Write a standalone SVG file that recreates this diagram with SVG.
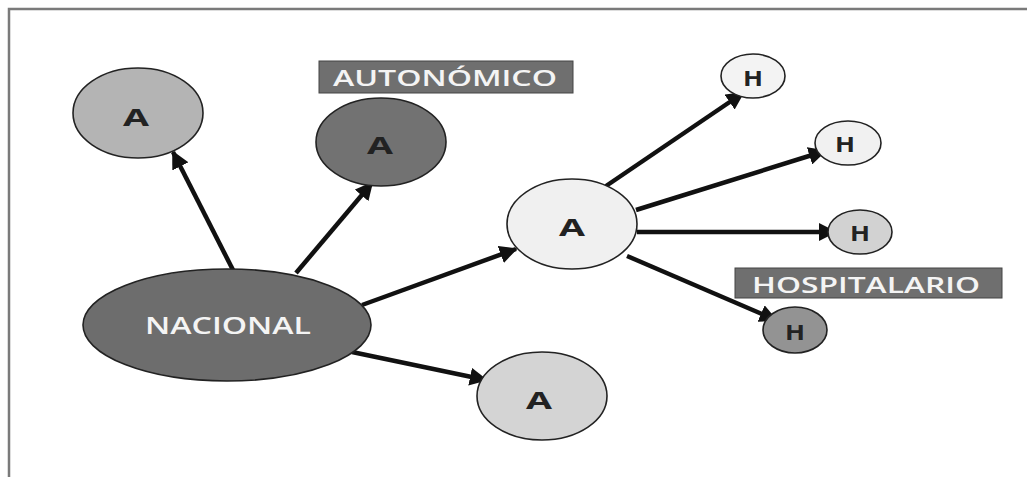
<svg xmlns="http://www.w3.org/2000/svg" width="1027" height="477" viewBox="0 0 1027 477">
<defs>
<marker id="arr" viewBox="0 0 10 10" refX="9" refY="5" markerWidth="4" markerHeight="4" orient="auto" markerUnits="strokeWidth">
<path d="M0,0 L10,5 L0,10 Z" fill="#111"/>
</marker>
<style>
.node{stroke:#222;stroke-width:1.6}
.lbl{font-family:"Open Sans",Lato,sans-serif;font-weight:bold;fill:#222;text-anchor:middle;dominant-baseline:central}
.tag{fill:#6f6f6f;stroke:#444;stroke-width:1}
.tagt{font-family:"Open Sans",Lato,sans-serif;font-weight:600;fill:#f4f4f4;text-anchor:middle;dominant-baseline:central}
.edge{stroke:#111;stroke-width:4.5;fill:none;marker-end:url(#arr)}
</style>
</defs>
<rect width="1027" height="477" fill="#fff"/>
<path d="M1027,9 L9,9 L9,477" fill="none" stroke="#7a7a7a" stroke-width="2.5"/>
<g id="connectors">
<line class="edge" x1="233" y1="270" x2="173" y2="152"/>
<line class="edge" x1="296" y1="273" x2="372" y2="183"/>
<line class="edge" x1="362" y1="305" x2="516" y2="249"/>
<line class="edge" x1="352" y1="352" x2="486" y2="380"/>
<line class="edge" x1="606" y1="186" x2="743" y2="93"/>
<line class="edge" x1="636" y1="210" x2="825" y2="151"/>
<line class="edge" x1="637" y1="232" x2="835" y2="232"/>
<line class="edge" x1="627" y1="256" x2="776" y2="320"/>
</g>
<g id="nacional">
<ellipse class="node" cx="227" cy="325" rx="144" ry="56" fill="#6d6d6d"/>
<text class="tagt" x="228" y="325" style="font-size:23px" textLength="166" lengthAdjust="spacingAndGlyphs">NACIONAL</text>
</g>
<g id="a-topleft">
<ellipse class="node" cx="138" cy="113" rx="65" ry="45" fill="#b4b4b4"/>
<text class="lbl" x="136" y="116" style="font-size:24px" textLength="26" lengthAdjust="spacingAndGlyphs">A</text>
</g>
<g id="autonomico-label">
<rect class="tag" x="319" y="61" width="254" height="32"/>
<text class="tagt" x="445" y="78" style="font-size:21px" textLength="224" lengthAdjust="spacingAndGlyphs">AUTONÓMICO</text>
</g>
<g id="a-autonomico">
<ellipse class="node" cx="381" cy="142" rx="65" ry="44" fill="#727272"/>
<text class="lbl" x="380" y="144" style="font-size:24px" textLength="26" lengthAdjust="spacingAndGlyphs">A</text>
</g>
<g id="a-central">
<ellipse class="node" cx="572" cy="224" rx="65" ry="45" fill="#f0f0f0"/>
<text class="lbl" x="572" y="226" style="font-size:24px" textLength="26" lengthAdjust="spacingAndGlyphs">A</text>
</g>
<g id="a-bottom">
<ellipse class="node" cx="542" cy="396" rx="65" ry="44" fill="#d4d4d4"/>
<text class="lbl" x="539" y="399" style="font-size:24px" textLength="26" lengthAdjust="spacingAndGlyphs">A</text>
</g>
<g id="h1">
<ellipse class="node" cx="753" cy="76" rx="32" ry="22" fill="#f3f3f3"/>
<text class="lbl" x="753" y="78" style="font-size:21px" textLength="20" lengthAdjust="spacingAndGlyphs">H</text>
</g>
<g id="h2">
<ellipse class="node" cx="848" cy="143" rx="33" ry="22" fill="#f1f1f1"/>
<text class="lbl" x="845" y="144" style="font-size:21px" textLength="20" lengthAdjust="spacingAndGlyphs">H</text>
</g>
<g id="h3">
<ellipse class="node" cx="860" cy="232" rx="32" ry="22" fill="#d2d2d2"/>
<text class="lbl" x="860" y="233" style="font-size:21px" textLength="20" lengthAdjust="spacingAndGlyphs">H</text>
</g>
<g id="hospitalario-label">
<rect class="tag" x="735" y="268" width="267" height="30"/>
<text class="tagt" x="866" y="284" style="font-size:22px" textLength="228" lengthAdjust="spacingAndGlyphs">HOSPITALARIO</text>
</g>
<g id="h4">
<ellipse class="node" cx="795" cy="330" rx="32" ry="23" fill="#939393"/>
<text class="lbl" x="795" y="332" style="font-size:21px" textLength="20" lengthAdjust="spacingAndGlyphs">H</text>
</g>
</svg>
